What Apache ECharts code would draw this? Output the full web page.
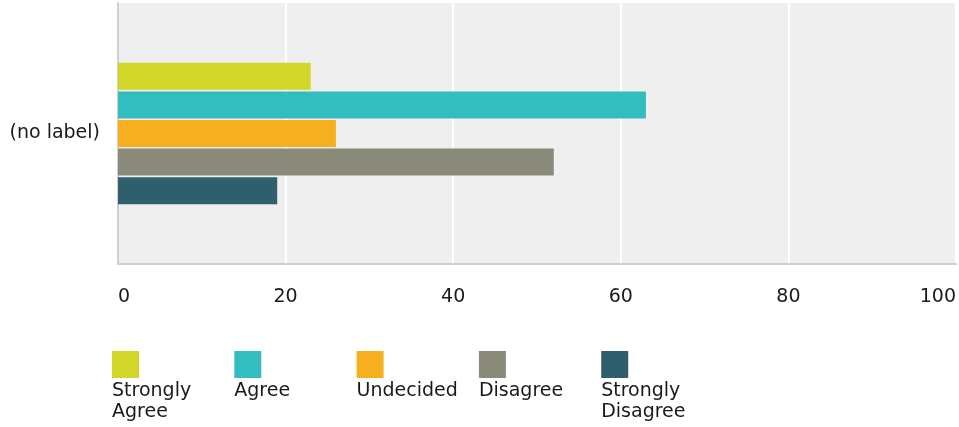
<!DOCTYPE html>
<html>
<head>
<meta charset="utf-8">
<script src="https://cdn.jsdelivr.net/npm/echarts@6/dist/echarts.min.js"></script>
<style>
  html, body { margin: 0; padding: 0; background: #fff; }
  #main { width: 959px; height: 427px; }
</style>
</head>
<body>
<div id="main"></div>
<script>
const categories = ['(no label)']
const seriesNames = ['Strongly Agree', 'Agree', 'Undecided', 'Disagree', 'Strongly Disagree']
const legendLines = [['Strongly', 'Agree'], ['Agree'], ['Undecided'], ['Disagree'], ['Strongly', 'Disagree']]
const seriesValues = [23, 63, 26, 52, 19]
const colors = ['#d1d628', '#33bdbf', '#f6af1f', '#8a8a7a', '#2f5f6c']
const xTicks = [0, 20, 40, 60, 80, 100]

const chart = echarts.init(document.getElementById('main'))

const font = 'DejaVu Sans'

// legend drawn by hand: swatch on top, text underneath
const graphic = []
seriesNames.forEach(function (name, i) {
  const x = 112 + i * 122.3
  graphic.push({
    type: 'rect',
    left: x,
    top: 351,
    shape: { width: 27, height: 27 },
    style: { fill: colors[i] }
  })
  graphic.push({
    type: 'text',
    left: x,
    top: 381,
    style: {
      text: legendLines[i].join('\n'),
      fontFamily: font,
      fontSize: 19,
      lineHeight: 21,
      fill: '#1a1a1a'
    }
  })
})

const option = {
  animation: false,
  textStyle: { fontFamily: font },
  grid: {
    left: 118,
    right: 1,
    top: 3,
    bottom: 163,
    show: true,
    backgroundColor: '#efefef',
    borderWidth: 0
  },
  xAxis: {
    type: 'value',
    min: xTicks[0],
    max: xTicks[xTicks.length - 1],
    interval: 20,
    axisLine: { show: true, lineStyle: { color: '#d0d0d0', width: 2 } },
    axisTick: { show: false },
    splitLine: { show: true, lineStyle: { color: '#ffffff', width: 2 } },
    axisLabel: {
      color: '#1a1a1a',
      fontFamily: font,
      fontSize: 19,
      margin: 24,
      alignMinLabel: 'left',
      alignMaxLabel: 'right'
    }
  },
  yAxis: {
    type: 'category',
    data: categories,
    inverse: true,
    axisLine: { show: true, lineStyle: { color: '#d0d0d0', width: 2 } },
    axisTick: { show: false },
    axisLabel: { color: '#1a1a1a', fontFamily: font, fontSize: 19, margin: 18 }
  },
  series: seriesNames.map(function (name, i) {
    return {
      name: name,
      type: 'bar',
      data: [seriesValues[i]],
      barWidth: 27,
      barGap: '6%',
      itemStyle: { color: colors[i] }
    }
  }),
  graphic: graphic
}

chart.setOption(option)
</script>
</body>
</html>
